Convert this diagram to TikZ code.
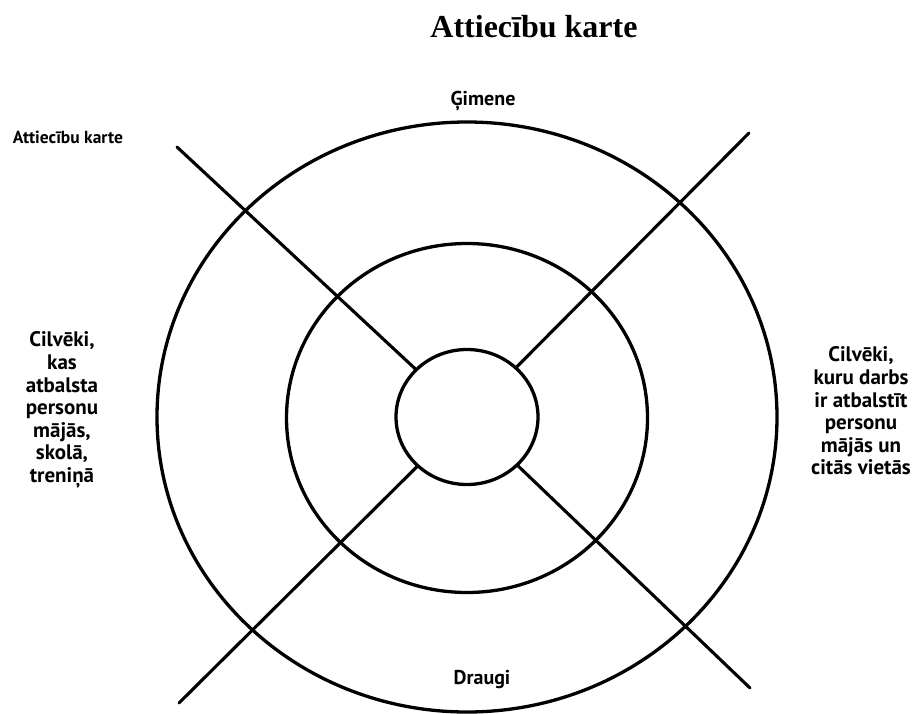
\documentclass[tikz,border=0pt]{standalone}
\usepackage{fontspec}
\setmainfont{Liberation Serif}
\newfontfamily\labfont{PT Sans}
\usetikzlibrary{shapes.geometric}
\tikzset{
  ring/.style={ellipse, draw=black, line width=3.3pt, inner sep=0pt, fill=none},
  spoke/.style={draw=black, line width=3.1pt, line cap=round},
  lbl/.style={align=center, inner sep=0pt, font=\labfont\bfseries\fontsize{21}{22.6}\selectfont},
  endlbl/.style={inner sep=0pt, font=\labfont\bfseries\fontsize{20}{22}\selectfont},
  toptitle/.style={inner sep=0pt, font=\bfseries\fontsize{32}{36}\selectfont},
  smalltitle/.style={inner sep=0pt, font=\labfont\bfseries\fontsize{17.5}{18}\selectfont}
}
\begin{document}
\begin{tikzpicture}[x=1pt,y=-1pt]
\useasboundingbox (0,0) rectangle (914,713);
\node[toptitle] (title) at (534,27) {Attiecību karte};
\node[smalltitle] (small) at (68,137) {Attiecību karte};
\node[ring, minimum width=620pt, minimum height=590pt] (outer) at (467,417) {};
\node[ring, minimum width=361pt, minimum height=349pt] (middle) at (467,418) {};
\node[ring, minimum width=142pt, minimum height=135pt] (inner) at (467,417) {};
\coordinate (tl) at (177,147);
\coordinate (tr) at (749,133);
\coordinate (bl) at (179,703);
\coordinate (br) at (750,688);
\draw[spoke] (tl) -- (inner);
\draw[spoke] (tr) -- (inner);
\draw[spoke] (bl) -- (inner);
\draw[spoke] (br) -- (inner);
\node[endlbl] (fam) at (483,101) {Ģimene};
\node[endlbl] (fri) at (482,680) {Draugi};
\node[lbl] (left) at (62,410) {Cilvēki,\\kas\\atbalsta\\personu\\mājās,\\skolā,\\treniņā};
\node[lbl] (right) at (861,411) {Cilvēki,\\kuru darbs\\ir atbalstīt\\personu\\mājās un\\citās vietās};
\end{tikzpicture}
\end{document}
